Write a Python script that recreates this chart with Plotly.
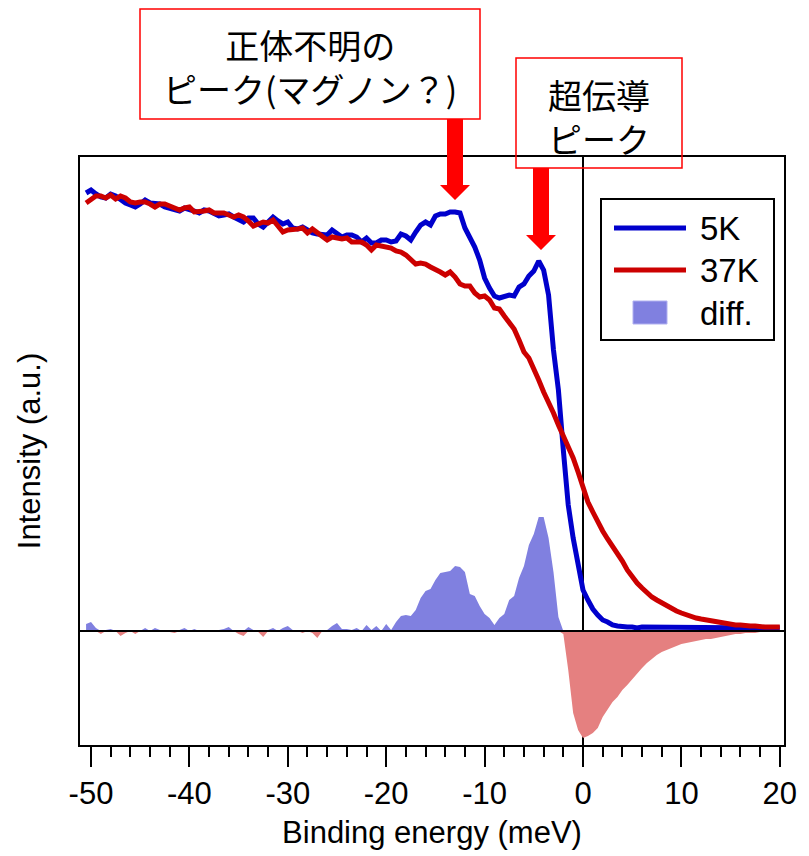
import numpy as np
import plotly.graph_objects as go

# ---------------- data ----------------
energy = np.round(np.arange(-50.5, 20.001, 0.5), 2)  # Binding energy (meV)

int_5K = [
    438, 441, 437, 434, 433, 437, 435, 431, 428, 426,
    424, 427, 431, 428, 428, 427, 424, 423, 421, 420,
    423, 422, 420, 418, 421, 420, 418, 415, 416, 417,
    414, 411, 409, 413, 413, 407, 404, 409, 414, 410,
    407, 409, 403, 402, 404, 401, 398, 397, 397, 396,
    401, 397, 394, 396, 396, 394, 389, 393, 388, 388,
    391, 391, 389, 390, 397, 395, 391, 399, 406, 409,
    406, 415, 417, 417, 419, 419, 418, 403, 394, 384,
    371, 353, 343, 335, 333, 334, 336, 335, 344, 347,
    355, 360, 370, 361, 336, 281, 241, 181, 126, 93,
    68, 41, 31, 22, 16, 11, 9, 6, 5, 4,
    4, 4, 3, 4, 4, 4, 3, 4, 4, 3,
    4, 4, 3, 3, 4, 3, 3, 3, 4, 3,
    3, 3, 3, 3, 3, 3, 3, 3, 3, 3,
    3, 3,
]

int_37K = [
    428, 431, 435, 435, 433, 436, 432, 435, 433, 429,
    428, 429, 429, 427, 424, 427, 427, 425, 423, 421,
    423, 424, 419, 419, 420, 421, 418, 418, 418, 416,
    414, 416, 414, 410, 405, 407, 409, 408, 411, 405,
    399, 401, 401, 402, 403, 398, 402, 398, 394, 391,
    394, 393, 392, 393, 389, 389, 389, 386, 381, 386,
    385, 384, 383, 380, 379, 376, 372, 367, 368, 367,
    364, 362, 359, 356, 359, 354, 347, 345, 345, 338,
    334, 335, 331, 323, 322, 315, 309, 302, 291, 279,
    273, 263, 251, 239, 229, 218, 206, 195, 186, 173,
    159, 144, 129, 119, 109, 100, 92, 85, 78, 70,
    61, 54, 48, 43, 38, 34, 31, 28, 25, 22,
    20, 18, 16, 14, 13, 12, 11, 10, 9, 8,
    8, 7, 6, 6, 5, 5, 5, 4, 4, 4,
    4, 4,
]

diff = [
    7, 9, 3, -3, 1, 2, 0, -5, -2, 1,
    -3, 0, 3, 0, 3, 1, 0, -1, -2, 1,
    3, 0, 2, -1, 0, 1, 0, 1, 2, 4,
    0, -3, -5, 4, 1, -1, -6, 1, 3, 0,
    3, 5, 1, 0, -2, 0, -2, -7, 0, 1,
    5, 8, 2, 2, 1, 3, 0, 6, 1, 5,
    0, 7, 1, 9, 15, 16, 15, 21, 33, 40,
    42, 51, 58, 59, 60, 65, 64, 59, 37, 35,
    25, 17, 13, 6, 13, 17, 31, 35, 53, 65,
    86, 97, 114, 114, 93, 59, 14, -3, -39, -82,
    -99, -107, -105, -102, -97, -86, -79, -71, -66, -59,
    -54, -48, -42, -37, -32, -28, -24, -21, -19, -17,
    -15, -13, -12, -11, -10, -9, -8, -8, -7, -6,
    -5, -4, -3, -3, -2, -2, -2, -1, -1, -1,
    -1, 0,
]

x_ticks = [-50, -40, -30, -20, -10, 0, 10, 20]
legend_labels = ["5K", "37K", "diff."]
note_unknown = "正体不明の<br>ピーク(マグノン？)"
note_sc = "超伝導<br>ピーク"

# ---------------- layout geometry ----------------
W, H = 809, 856
L, R, T, B = 80, 25, 157, 111
PW, PH = W - L - R, H - T - B


def fx(p):  # pixel x -> paper
    return (p - L) / PW


def fy(p):  # pixel y -> paper
    return (H - B - p) / PH


BLUE = "#0000cc"
RED = "#cc0000"
POS = "#8080e0"
NEG = "#e58080"
FONT = "Liberation Sans, Arial, sans-serif"
CJK = "Noto Sans CJK JP, sans-serif"

d = np.array(diff, dtype=float)

fig = go.Figure()
fig.add_trace(go.Scatter(x=energy, y=np.maximum(d, 0), mode="lines", fill="tozeroy",
                         fillcolor=POS, line=dict(width=0, color=POS), showlegend=False,
                         hoverinfo="skip"))
fig.add_trace(go.Scatter(x=energy, y=np.minimum(d, 0), mode="lines", fill="tozeroy",
                         fillcolor=NEG, line=dict(width=0, color=NEG), showlegend=False,
                         hoverinfo="skip"))
fig.add_trace(go.Scatter(x=energy, y=int_5K, mode="lines", name="5K",
                         line=dict(color=BLUE, width=5), showlegend=False))
fig.add_trace(go.Scatter(x=energy, y=int_37K, mode="lines", name="37K",
                         line=dict(color=RED, width=5), showlegend=False))

shapes = []
# zero energy vertical line
shapes.append(dict(type="line", xref="x", yref="paper", x0=0, x1=0, y0=0, y1=1,
                   line=dict(color="black", width=2), layer="below"))
# diff baseline
shapes.append(dict(type="line", xref="paper", yref="y", x0=0, x1=1, y0=0, y1=0,
                   line=dict(color="black", width=2), layer="above"))

# annotation boxes
for (x0, y0, x1, y1) in [(140, 9, 480, 119), (516, 58, 682, 168)]:
    shapes.append(dict(type="rect", xref="paper", yref="paper",
                       x0=fx(x0), x1=fx(x1), y0=fy(y1), y1=fy(y0),
                       line=dict(color="#ff0000", width=1.5), fillcolor="rgba(0,0,0,0)",
                       layer="above"))

# thick red arrows
for (cx, ytop, yhead, ytip) in [(455, 119, 185, 200), (541, 168, 235, 250)]:
    sw, hw = 8, 15
    path = (f"M {fx(cx - sw)} {fy(ytop)} L {fx(cx + sw)} {fy(ytop)} "
            f"L {fx(cx + sw)} {fy(yhead)} L {fx(cx + hw)} {fy(yhead)} "
            f"L {fx(cx)} {fy(ytip)} L {fx(cx - hw)} {fy(yhead)} "
            f"L {fx(cx - sw)} {fy(yhead)} Z")
    shapes.append(dict(type="path", xref="paper", yref="paper", path=path,
                       fillcolor="#ff0000", line=dict(width=0), layer="above"))

# legend box
shapes.append(dict(type="rect", xref="paper", yref="paper",
                   x0=fx(601), x1=fx(774), y0=fy(340), y1=fy(199),
                   line=dict(color="black", width=2), fillcolor="white", layer="above"))
shapes.append(dict(type="line", xref="paper", yref="paper",
                   x0=fx(614), x1=fx(686), y0=fy(228), y1=fy(228),
                   line=dict(color=BLUE, width=5), layer="above"))
shapes.append(dict(type="line", xref="paper", yref="paper",
                   x0=fx(614), x1=fx(686), y0=fy(270), y1=fy(270),
                   line=dict(color=RED, width=5), layer="above"))
shapes.append(dict(type="rect", xref="paper", yref="paper",
                   x0=fx(633), x1=fx(667), y0=fy(324), y1=fy(301),
                   line=dict(color="#b0b0f0", width=1), fillcolor=POS, layer="above"))

annotations = []
annotations.append(dict(xref="paper", yref="paper", x=fx(310), y=fy(67),
                        text=note_unknown, showarrow=False, xanchor="center",
                        yanchor="middle", align="center",
                        font=dict(family=CJK, size=34, color="black")))
annotations.append(dict(xref="paper", yref="paper", x=fx(599), y=fy(116),
                        text=note_sc, showarrow=False, xanchor="center",
                        yanchor="middle", align="center",
                        font=dict(family=CJK, size=34, color="black")))
for lab, yy in zip(legend_labels, [228, 270, 313]):
    annotations.append(dict(xref="paper", yref="paper", x=fx(698), y=fy(yy),
                            text=lab, showarrow=False, xanchor="left", yanchor="middle",
                            font=dict(family=FONT, size=33, color="black")))

fig.update_layout(
    width=W, height=H,
    margin=dict(l=L, r=R, t=T, b=B, autoexpand=False),
    paper_bgcolor="white", plot_bgcolor="white",
    font=dict(family=FONT, color="black"),
    shapes=shapes, annotations=annotations,
    showlegend=False,
    xaxis=dict(
        range=[(L - 583) / 9.84, (L + PW - 583) / 9.84],
        tickmode="array", tickvals=x_ticks, ticktext=[str(v) for v in x_ticks],
        ticks="outside", ticklen=20, tickwidth=2, tickcolor="black",
        minor=dict(dtick=2, tick0=0, ticks="outside", ticklen=10, tickwidth=2,
                   tickcolor="black", showgrid=False),
        showline=True, linecolor="black", linewidth=2, mirror=True,
        showgrid=False, zeroline=False,
        tickfont=dict(family=FONT, size=31, color="black"),
        title=dict(text="Binding energy (meV)", font=dict(family=FONT, size=31, color="black"),
                   standoff=11),
        automargin=False,
    ),
    yaxis=dict(
        range=[-114, 474],
        showticklabels=False, ticks="",
        showline=True, linecolor="black", linewidth=2, mirror=True,
        showgrid=False, zeroline=False,
        title=dict(text="Intensity (a.u.)", font=dict(family=FONT, size=31, color="black"),
                   standoff=28),
        automargin=False,
    ),
)

fig.write_html("out.html")
